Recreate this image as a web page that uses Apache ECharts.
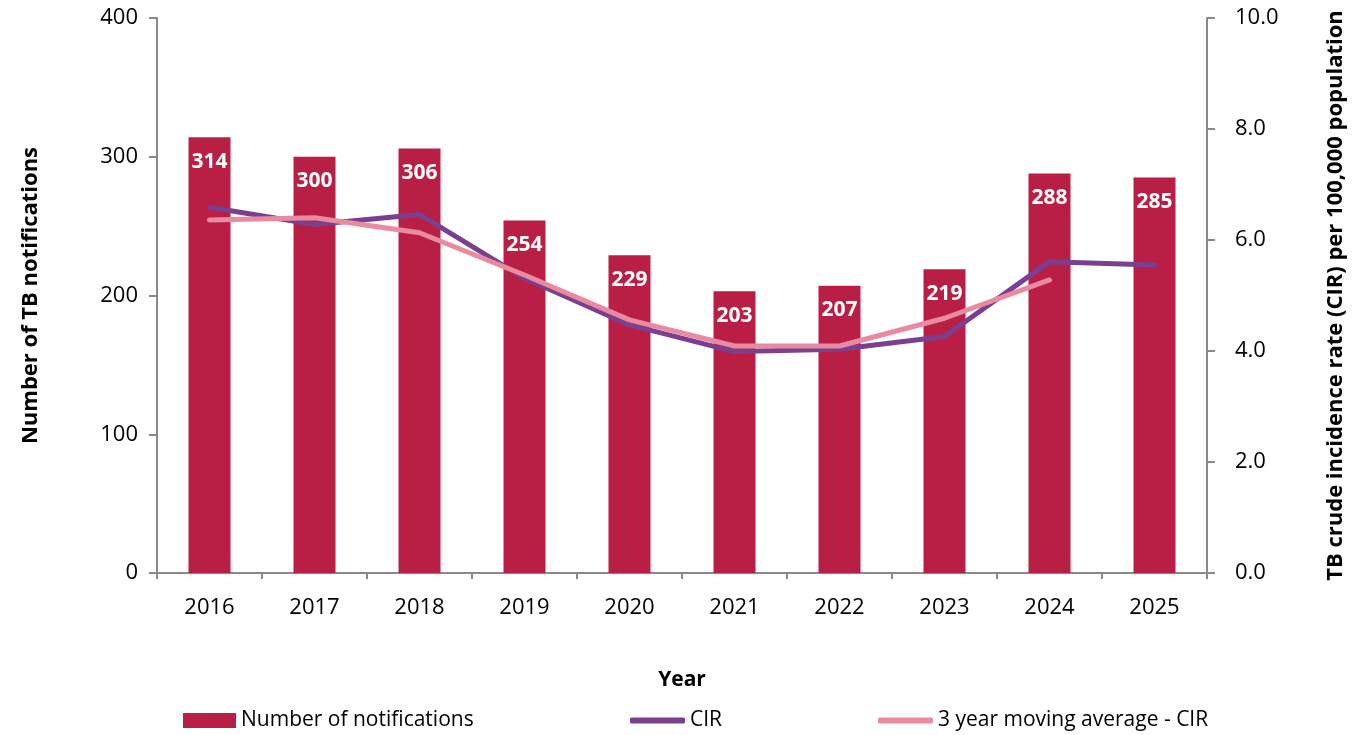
<!DOCTYPE html>
<html><head><meta charset="utf-8">
<script src="https://cdn.jsdelivr.net/npm/echarts@6/dist/echarts.min.js"></script>
<style>html,body{margin:0;padding:0;background:#fff}#c{width:1355px;height:735px}</style>
</head><body><div id="c"></div>
<script>
const years = ['2016','2017','2018','2019','2020','2021','2022','2023','2024','2025'];
const notifications = [314, 300, 306, 254, 229, 203, 207, 219, 288, 285];
const cir = [6.59, 6.28, 6.46, 5.31, 4.47, 3.99, 4.03, 4.26, 5.61, 5.55];
const movingAvg = [6.36, 6.40, 6.13, 5.37, 4.56, 4.09, 4.09, 4.59, 5.28, null];
const leftTicks = [0, 100, 200, 300, 400];
const rightTicks = [0, 2, 4, 6, 8, 10];

const FONT = '"Open Sans", "Liberation Sans", sans-serif';
const axisGrey = '#898989';
const chart = echarts.init(document.getElementById('c'));
const legendText = {fontFamily: FONT, fontSize: 21, color: '#000'};
chart.setOption({
  animation: false,
  textStyle: {fontFamily: FONT},
  grid: {left: 157, right: 143, top: 18, bottom: 162, containLabel: false},
  legend: [
    {data: ['Number of notifications'], left: 183, top: 710, padding: 0, itemWidth: 53, itemHeight: 15, icon: 'rect', textStyle: legendText, itemGap: 5},
    {data: ['CIR'], left: 630, top: 710, padding: 0, itemWidth: 55, itemHeight: 6, icon: 'roundRect', textStyle: legendText},
    {data: ['3 year moving average - CIR'], left: 878, top: 710, padding: 0, itemWidth: 55, itemHeight: 6, icon: 'roundRect', textStyle: legendText}
  ],
  xAxis: {
    type: 'category', data: years,
    name: 'Year', nameLocation: 'middle', nameGap: 97,
    nameTextStyle: {fontFamily: FONT, fontSize: 21, fontWeight: 'bold', color: '#000'},
    axisLine: {lineStyle: {color: axisGrey, width: 2}},
    axisTick: {show: true, alignWithLabel: false, length: 6, lineStyle: {color: axisGrey, width: 2}},
    axisLabel: {fontFamily: FONT, fontSize: 22, color: '#000', margin: 24}
  },
  yAxis: [
    {
      type: 'value', min: 0, max: 400, interval: 100,
      name: 'Number of TB notifications', nameLocation: 'middle', nameGap: 115, nameRotate: 90,
      nameTextStyle: {fontFamily: FONT, fontSize: 22, fontWeight: 'bold', color: '#000'},
      axisLine: {show: true, lineStyle: {color: axisGrey, width: 2}},
      axisTick: {show: true, length: 8, lineStyle: {color: axisGrey, width: 2}},
      axisLabel: {fontFamily: FONT, fontSize: 22, color: '#000', margin: 19,
        formatter: v => leftTicks.includes(v) ? String(v) : ''},
      splitLine: {show: false}
    },
    {
      type: 'value', min: 0, max: 10, interval: 2, position: 'right',
      name: 'TB crude incidence rate (CIR) per 100,000 population', nameLocation: 'middle', nameGap: 118, nameRotate: 90,
      nameTextStyle: {fontFamily: FONT, fontSize: 22, fontWeight: 'bold', color: '#000'},
      axisLine: {show: true, lineStyle: {color: axisGrey, width: 2}},
      axisTick: {show: true, length: 8, lineStyle: {color: axisGrey, width: 2}},
      axisLabel: {fontFamily: FONT, fontSize: 22, color: '#000', margin: 28,
        formatter: v => rightTicks.includes(v) ? v.toFixed(1) : ''},
      splitLine: {show: false}
    }
  ],
  series: [
    {
      name: 'Number of notifications', type: 'bar', data: notifications, yAxisIndex: 0,
      barWidth: '40%', itemStyle: {color: '#B91F44'},
      label: {show: true, position: 'insideTop', distance: 14, color: '#fff', fontFamily: FONT, fontSize: 21, fontWeight: 'bold'}
    },
    {
      name: 'CIR', type: 'line', data: cir, yAxisIndex: 1, symbol: 'none',
      lineStyle: {color: '#7B3F8F', width: 5, cap: 'round', join: 'round'}, itemStyle: {color: '#7B3F8F'}
    },
    {
      name: '3 year moving average - CIR', type: 'line', data: movingAvg, yAxisIndex: 1, symbol: 'none',
      lineStyle: {color: '#E88BA0', width: 5, cap: 'round', join: 'round'}, itemStyle: {color: '#E88BA0'}
    }
  ]
});
</script></body></html>
